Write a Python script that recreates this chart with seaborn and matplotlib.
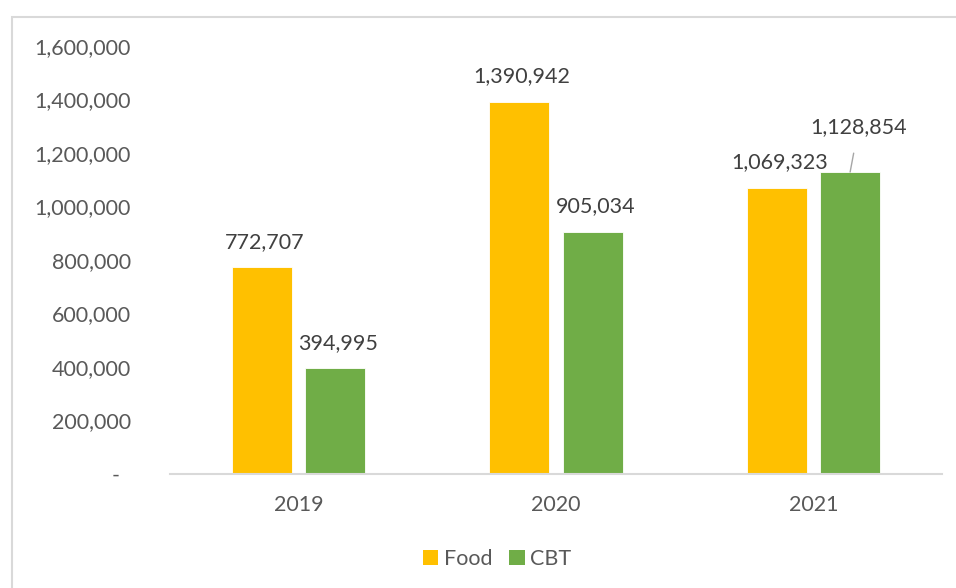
import matplotlib
matplotlib.use("Agg")
import matplotlib.pyplot as plt
from matplotlib.patches import Rectangle, Patch
from matplotlib.ticker import FuncFormatter
import seaborn as sns
import pandas as pd

years = ["2019", "2020", "2021"]
food = [772707, 1390942, 1069323]
cbt = [394995, 905034, 1128854]
series_names = ["Food", "CBT"]
colors = {"Food": "#FFC000", "CBT": "#70AD47"}
yticks = [0, 200000, 400000, 600000, 800000, 1000000, 1200000, 1400000, 1600000]

df = pd.DataFrame({
    "year": years * 2,
    "series": ["Food"] * len(years) + ["CBT"] * len(years),
    "value": food + cbt,
})

sns.set_theme(style="white")
plt.rcParams["font.family"] = ["Lato", "DejaVu Sans"]

fig = plt.figure(figsize=(9.56, 5.88), dpi=100)
ax = fig.add_axes([170 / 956, 1 - 474 / 588, 772 / 956, 428 / 588])

sns.barplot(data=df, x="year", y="value", hue="series", order=years,
            hue_order=series_names, palette=colors, saturation=1,
            width=0.572, gap=0.185, edgecolor="white", linewidth=0.6,
            ax=ax, legend=False)

ax.set_xlim(-0.5, 2.5)
ax.set_ylim(0, 1600000)
ax.set_yticks(yticks)
ax.yaxis.set_major_formatter(FuncFormatter(
    lambda v, p: "-  " if v == 0 else f"{int(v):,}"))
ax.set_xlabel("")
ax.set_ylabel("")
ax.tick_params(axis="y", length=0, pad=28, labelsize=15.5, labelcolor="#595959")
ax.tick_params(axis="x", length=0, pad=15, labelsize=15.5, labelcolor="#595959")
for side in ["top", "right", "left"]:
    ax.spines[side].set_visible(False)
ax.spines["bottom"].set_color("#D9D9D9")
ax.spines["bottom"].set_linewidth(1.5)
ax.grid(False)

# value labels above each bar
for container, name in zip(ax.containers, series_names):
    vals = food if name == "Food" else cbt
    for bar, v in zip(container.patches, vals):
        cx = bar.get_x() + bar.get_width() / 2
        top = bar.get_height()
        if name == "CBT" and v == cbt[2]:
            # label lifted with a leader line
            ax.annotate(f"{v:,}", xy=(cx, top), xytext=(6, 32),
                        textcoords="offset points", ha="center", va="center",
                        fontsize=15.5, color="#404040",
                        arrowprops=dict(arrowstyle="-", color="#A6A6A6", lw=1,
                                        shrinkA=9, shrinkB=0))
        else:
            ax.annotate(f"{v:,}", xy=(cx, top), xytext=(2, 18.5),
                        textcoords="offset points", ha="center", va="center",
                        fontsize=15.5, color="#404040")

handles = [Patch(facecolor=colors[n], edgecolor="none", label=n) for n in series_names]
fig.legend(handles=handles, loc="center", bbox_to_anchor=(497 / 956, 1 - 559 / 588),
           ncol=2, frameon=False, fontsize=15.5, labelcolor="#595959",
           handlelength=0.72, handleheight=0.72, handletextpad=0.25,
           columnspacing=0.8)

fig.patches.append(Rectangle((12 / 956, -0.1), 1.2, (588 - 17) / 588 + 0.1,
                             transform=fig.transFigure, fill=False,
                             edgecolor="#D9D9D9", linewidth=1.5))

fig.savefig("out.png", dpi=100)
